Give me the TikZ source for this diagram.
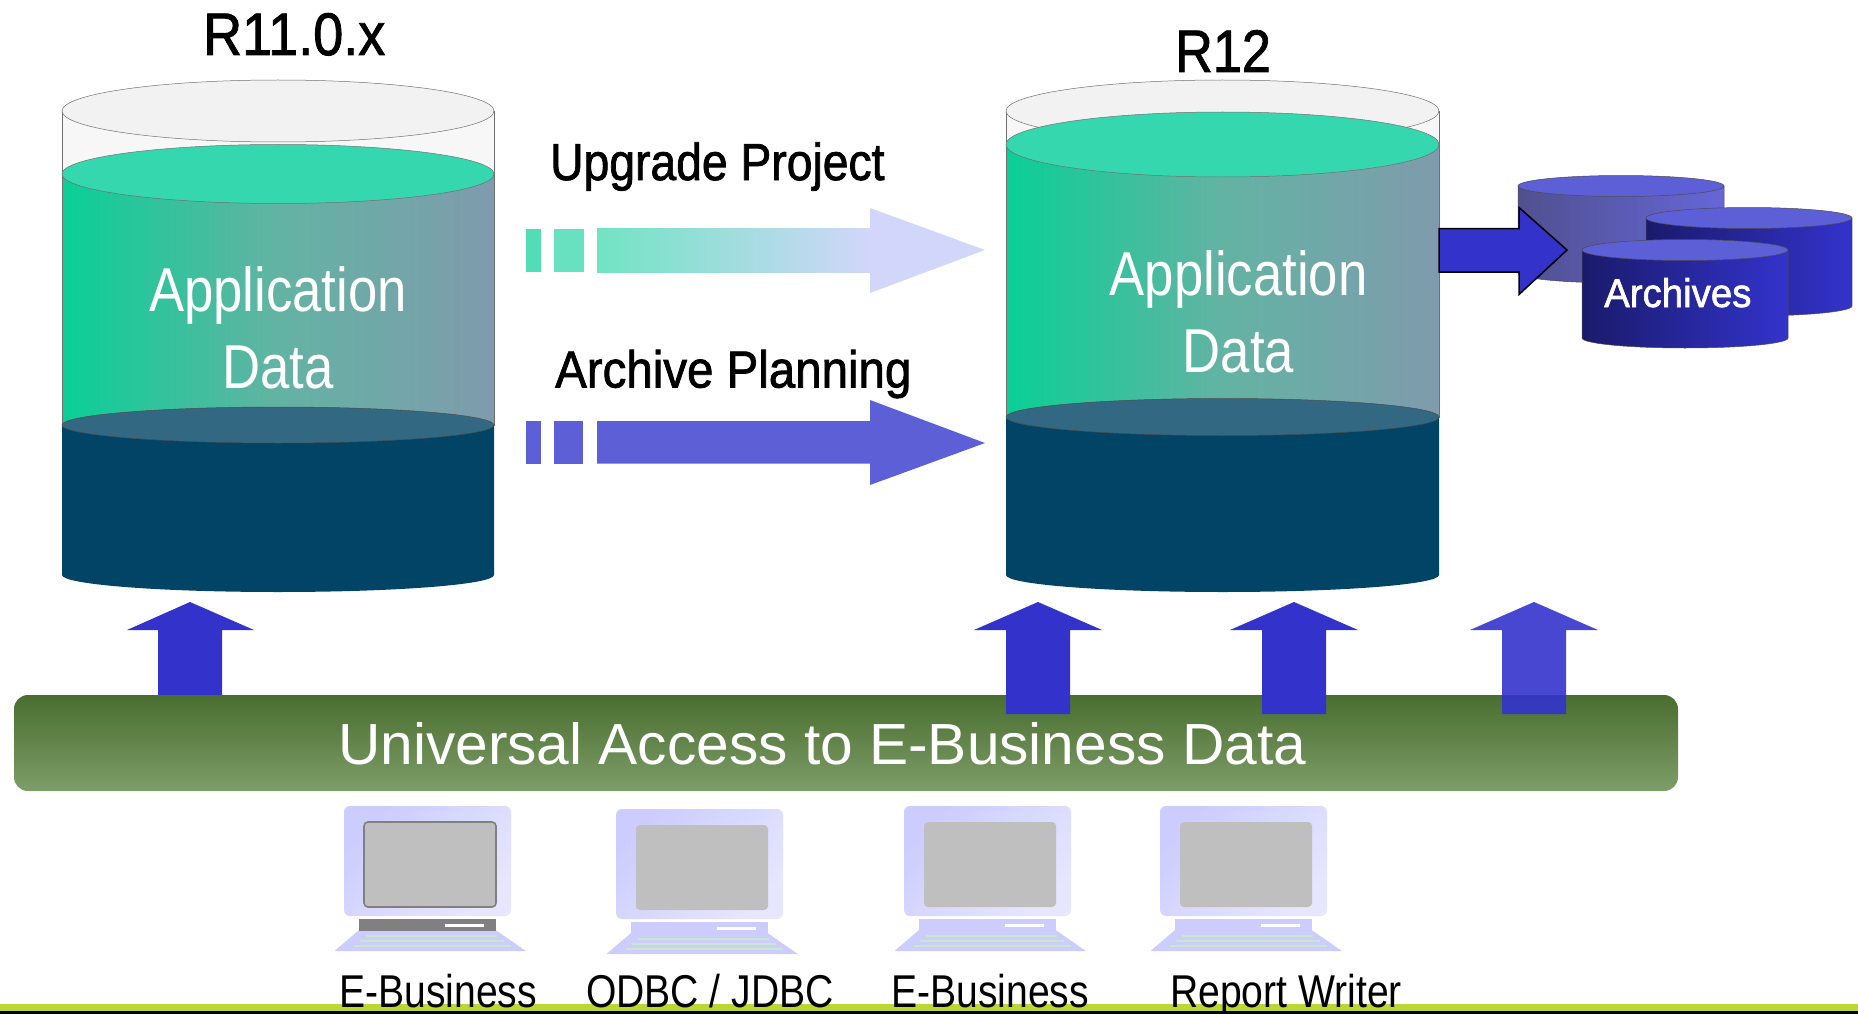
\documentclass[tikz,border=0pt]{standalone}
\usepackage{fontspec}
\setmainfont{Liberation Sans}
\newfontfamily\headfont[FakeBold=1.5]{Liberation Sans}
\definecolor{glassfill}{HTML}{F7F7F7}
\definecolor{glasstop}{HTML}{F2F2F2}
\definecolor{glassline}{HTML}{707070}
\definecolor{tealleft}{HTML}{0ACF97}
\definecolor{tealmid}{HTML}{63B3A3}
\definecolor{tealright}{HTML}{7F9BAD}
\definecolor{tealtop}{HTML}{35D8AE}
\definecolor{deepbody}{HTML}{024466}
\definecolor{deeptop}{HTML}{336882}
\definecolor{royal}{HTML}{3333CC}
\definecolor{planblue}{HTML}{5C5FD6}
\definecolor{paleblue}{HTML}{D2D6FA}
\definecolor{backleft}{HTML}{50508F}
\definecolor{backright}{HTML}{6666D8}
\definecolor{frontleft}{HTML}{1A1A6B}
\definecolor{pcblue}{HTML}{CCCCFF}
\definecolor{pclight}{HTML}{E6E6FF}
\definecolor{pcgreen}{HTML}{C8E8C8}
\definecolor{lime}{HTML}{BCD634}
\definecolor{bartop}{HTML}{4A6D30}
\definecolor{barbottom}{HTML}{7D9E68}
\tikzset{
  lbl/.style n args={3}{inner sep=0pt,anchor=base west,xscale=#2,font=\fontsize{#1}{#1}\selectfont,#3},
  headlbl/.style n args={2}{inner sep=0pt,anchor=base west,xscale=#2,font=\fontsize{#1}{#1}\headfont},
  datalbl/.style={inner sep=0pt,white,align=center,xscale=.85,font=\fontsize{62}{77}\selectfont},
  glass/.style={draw=glassline,line width=.5pt},
  screenbold/.style={draw=gray,line width=1.6pt,fill=black!25,rounded corners=4pt},
  screenflat/.style={fill=black!25,rounded corners=4pt},
  basegray/.style={fill=gray},
  baseflat/.style={fill=pcblue}
}
\begin{document}
\begin{tikzpicture}[x=1pt,y=-1pt]
  \useasboundingbox (0,0) rectangle (1858,1014);

  \foreach \cx/\rx/\gy/\gr/\my/\mr in {278/216/174/29.5/425/18, 1222.5/216.5/144.5/32.5/417/18.5} {
    \draw[glass,fill=glassfill] ({\cx-\rx},111) -- ({\cx-\rx},200) -- ({\cx+\rx},200) -- ({\cx+\rx},111) -- cycle;
    \draw[glass,fill=glasstop] (\cx,111) ellipse [x radius=\rx,y radius=31];
    \fill[deepbody] ({\cx-\rx},\my) -- ({\cx-\rx},575) arc [start angle=180,end angle=0,x radius=\rx,y radius=17] -- ({\cx+\rx},\my) -- cycle;
    \draw[glass,left color=tealleft,right color=tealright,middle color=tealmid] ({\cx-\rx},\gy) -- ({\cx-\rx},\my) -- ({\cx+\rx},\my) -- ({\cx+\rx},\gy) -- cycle;
    \draw[glass,fill=tealtop] (\cx,\gy) ellipse [x radius=\rx,y radius=\gr];
    \draw[glass,draw=black!70,fill=deeptop] (\cx,\my) ellipse [x radius=\rx,y radius=\mr];
  }

  \node[headlbl={60}{.9}] (oldtitle) at (203,55) {R11.0.x};
  \node[headlbl={60}{.87}] (newtitle) at (1175,72) {R12};
  \node[datalbl] (olddata) at (278,328) {Application\\Data};
  \node[datalbl] (newdata) at (1238.5,312) {Application\\Data};

  \node[headlbl={52}{.89}] (upgrade) at (550,180) {Upgrade Project};
  \fill[color=tealleft!70!white] (526,228.5) rectangle (541,272);
  \fill[color=tealleft!62!white] (554,228.5) rectangle (584,272);
  \fill[left color=tealleft!58!white,right color=paleblue] (597,228.5) rectangle (871,272);
  \fill[paleblue] (870,208) -- (985,250) -- (870,293) -- cycle;

  \node[headlbl={52}{.913}] (archive) at (555,387.5) {Archive Planning};
  \fill[planblue] (526,421) rectangle (541,463.5);
  \fill[planblue] (554,421) rectangle (583,463.5);
  \fill[planblue] (597,421) -- (870,421) -- (870,400) -- (985,443) -- (870,485) -- (870,463.5) -- (597,463.5) -- cycle;

  \foreach \cx/\ty/\by/\lc/\rc in {1621/186/273/backleft/backright, 1749/218/306/frontleft/royal, 1685/250/338/frontleft/royal} {
    \draw[glass,draw=black!70,left color=\lc,right color=\rc] ({\cx-103},\ty) -- ({\cx-103},\by) arc [start angle=180,end angle=0,x radius=103,y radius=10] -- ({\cx+103},\ty) -- cycle;
    \draw[glass,draw=black!70,fill=planblue] (\cx,\ty) ellipse [x radius=103,y radius=10.5];
  }
  \node[headlbl={40}{.96},white] (archives) at (1604,307) {Archives};
  \draw[fill=royal,line width=1.5pt] (1439,228.5) -- (1519,228.5) -- (1519,207.5) -- (1567,250) -- (1519,294.5) -- (1519,272) -- (1439,272) -- cycle;

  \fill[royal] (158,696) -- (158,630) -- (127,630) -- (190,602) -- (254,630) -- (222,630) -- (222,696) -- cycle;
  \shade[rounded corners=14pt,top color=bartop,bottom color=barbottom] (14,695) rectangle (1678,791);
  \node[lbl={58}{1.011}{white}] (access) at (338,764) {Universal Access to E-Business Data};
  \foreach \tx/\op in {1038/1, 1294/1, 1534/.9}
    \fill[royal,opacity=\op] ({\tx-32},714) -- ({\tx-32},630) -- ({\tx-64},630) -- (\tx,602) -- ({\tx+64},630) -- ({\tx+32},630) -- ({\tx+32},714) -- cycle;

  \fill[lime] (0,1004) rectangle (1858,1011);
  \fill[black] (0,1011) rectangle (1858,1014);

  \foreach \dx/\dy/\scr/\bas in {0/0/screenbold/basegray, 272/3/screenflat/baseflat, 560/0/screenflat/baseflat, 816/0/screenflat/baseflat} {
    \begin{scope}[shift={(\dx,\dy)}]
      \shade[rounded corners=6pt,top color=pcblue,bottom color=pclight,shading angle=45] (344,806) rectangle (511,916);
      \path[\scr] (364,822) rectangle (496,907);
      \fill[pcblue] (359,930) -- (495.5,930) -- (526,951) -- (334.5,951) -- cycle;
      \path[\bas] (359,919) rectangle (495.5,930.5);
      \fill[white] (445,924) rectangle (484,927);
      \fill[pcgreen] (366,935) rectangle (497,936.5);
      \fill[pcgreen] (360,939.5) rectangle (504,941.5);
      \fill[pcgreen] (354,944.5) rectangle (511,946.5);
    \end{scope}
  }
  \node[lbl={46}{.85}{black}] (ebiz) at (339,1007.5) {E-Business};
  \node[lbl={46}{.85}{black}] (odbc) at (586,1007.5) {ODBC / JDBC};
  \node[lbl={46}{.85}{black}] (ebiztwo) at (891,1007.5) {E-Business};
  \node[lbl={46}{.85}{black}] (report) at (1170,1007.5) {Report Writer};
\end{tikzpicture}
\end{document}
